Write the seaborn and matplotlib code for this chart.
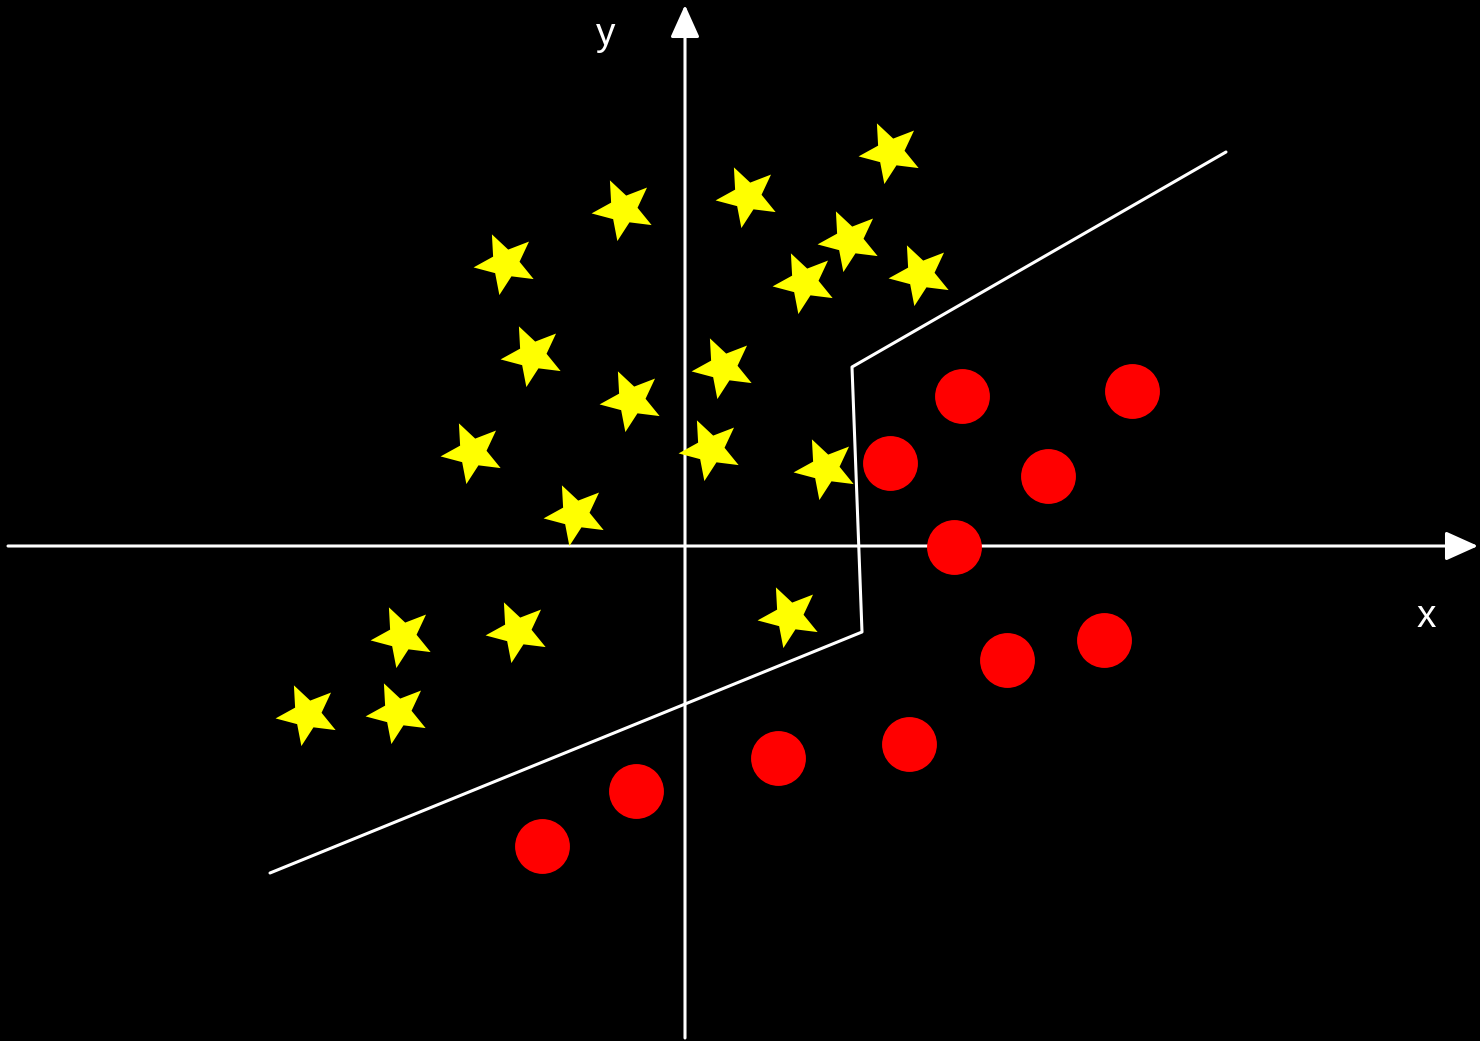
import matplotlib
matplotlib.use("Agg")
import matplotlib.pyplot as plt
import seaborn as sns
import pandas as pd
from matplotlib.markers import MarkerStyle
from matplotlib.path import Path
from matplotlib.transforms import Affine2D

# Data (pixel offsets from the origin, y up)
star_x = [205, 62, -62, 164, -180, 119, 235, -153, 38, -54, 25, -213, 140, -110, 104, -283, -168, -378, -288]
star_y = [394, 350, 337, 306, 283, 264, 272, 191, 179, 146, 97, 94, 78, 32, -70, -90, -85, -168, -166]
circle_x = [277, 447, 205, 363, 269, 322, 419, 224, 93, -49, -143]
circle_y = [150, 155, 83, 70, -1, -114, -94, -198, -212, -245, -300]
boundary_x = [-415, 177, 167, 541]
boundary_y = [-327, -86, 179, 394]
axis_x_range = [-677, 793]
axis_y_range = [-492, 541]
labels = ["x", "y"]

sns.set_theme(style="dark")
plt.rcParams['font.family'] = ['Liberation Sans', 'DejaVu Sans']

fig = plt.figure(figsize=(14.8, 10.41), dpi=100, facecolor="black")
ax = fig.add_axes([0, 0, 1, 1])
ax.set_facecolor("black")
ax.set_xlim(-685, 795)
ax.set_ylim(-495, 546)
ax.set_axis_off()

# Axes with arrows
arrow = dict(arrowstyle="-|>,head_length=1.0,head_width=0.45", color="white",
             lw=2.2, mutation_scale=20, shrinkA=0, shrinkB=0)
ax.annotate("", xy=(axis_x_range[1], 0), xytext=(axis_x_range[0], 0), arrowprops=arrow)
ax.annotate("", xy=(0, axis_y_range[1]), xytext=(0, axis_y_range[0]), arrowprops=arrow)
ax.text(741, -81, labels[0], color="white", fontsize=28, ha="center", va="baseline")
ax.text(-79, 501, labels[1], color="white", fontsize=28, ha="center", va="baseline")

# Decision boundary
bdf = pd.DataFrame({"x": boundary_x, "y": boundary_y})
sns.lineplot(data=bdf, x="x", y="y", sort=False, estimator=None, color="white", lw=2.2, ax=ax)

# Star marker (slightly fatter than default, tilted)
star_path = Path.unit_regular_star(5, 0.44).transformed(Affine2D().rotate_deg(25))
star_marker = MarkerStyle(star_path)

sdf = pd.DataFrame({"x": star_x, "y": star_y})
cdf = pd.DataFrame({"x": circle_x, "y": circle_y})
sns.scatterplot(data=sdf, x="x", y="y", marker=star_marker, s=46**2,
                color="#ffff00", linewidth=0, ax=ax, zorder=5)
sns.scatterplot(data=cdf, x="x", y="y", marker="o", s=39.5**2,
                color="#ff0000", linewidth=0, ax=ax, zorder=5)

ax.set_xlim(-685, 795)
ax.set_ylim(-495, 546)
ax.set_axis_off()
fig.savefig("out.png", dpi=100, facecolor="black")
